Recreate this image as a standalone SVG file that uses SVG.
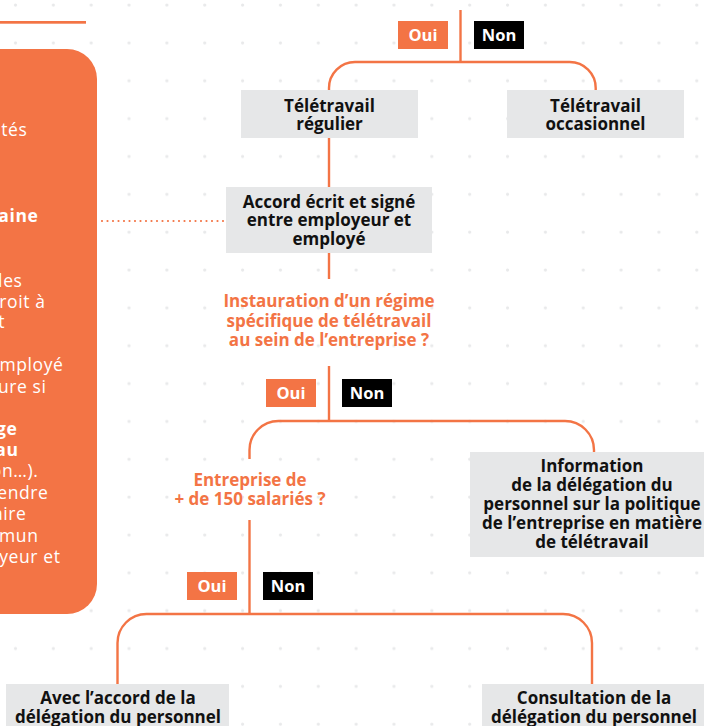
<svg xmlns="http://www.w3.org/2000/svg" width="704" height="726" viewBox="0 0 704 726">
  <defs>
    <pattern id="dots" x="0" y="0" width="37.85" height="37.85" patternUnits="userSpaceOnUse">
      <circle cx="15.5" cy="5" r="1.6" fill="#e8e9ea"/>
    </pattern>
    <style>
      .box { fill: #e6e7e8; }
      .oui { fill: #f37445; }
      .non { fill: #000000; }
      .lbl { font-family: "Open Sans", "Liberation Sans", sans-serif; font-weight: 700; font-size: 16.5px; fill: #ffffff; text-anchor: middle; }
      .t { font-family: "Open Sans", "Liberation Sans", sans-serif; font-weight: 700; font-size: 17px; fill: #111111; text-anchor: middle; }
      .q { font-family: "Open Sans", "Liberation Sans", sans-serif; font-weight: 700; font-size: 17px; fill: #f37445; text-anchor: middle; }
      .p { font-family: "Open Sans", "Liberation Sans", sans-serif; font-weight: 400; font-size: 17.5px; letter-spacing: 0.6px; fill: #ffffff; text-anchor: end; }
      .pb { font-weight: 700; }
      .conn { fill: none; stroke: #f37445; stroke-width: 2.4; }
      .dotted { fill: none; stroke: #f37445; stroke-width: 2.2; stroke-linecap: round; stroke-dasharray: 0 5.5; }
    </style>
  </defs>

  <rect x="0" y="0" width="704" height="726" fill="#ffffff"/>
  <rect x="0" y="0" width="704" height="726" fill="url(#dots)"/>

  <!-- top rule -->
  <rect x="0" y="21" width="86" height="2.7" fill="#f37445"/>

  <!-- side panel -->
  <g id="panel">
    <rect x="-60" y="49" width="157" height="565" rx="30" ry="30" fill="#f37445"/>
    <text class="p" x="27.5" y="136">tés</text>
    <text class="p pb" x="38.5" y="221.5">aine</text>
    <text class="p" x="22.5" y="286.5">les</text>
    <text class="p" x="45.5" y="307.5">roit à</text>
    <text class="p" x="5" y="328">t</text>
    <text class="p" x="63.5" y="371">mployé</text>
    <text class="p" x="46.5" y="392.5">ure si</text>
    <text class="p pb" x="17.5" y="435">ge</text>
    <text class="p pb" x="18.5" y="456">au</text>
    <text class="p" x="38.5" y="476.5">on…).</text>
    <text class="p" x="48.5" y="498.5">endre</text>
    <text class="p" x="26.5" y="520">aire</text>
    <text class="p" x="38.5" y="541.5">mmun</text>
    <text class="p" x="60.5" y="562.5">yeur et</text>
  </g>

  <!-- connectors -->
  <g id="connectors">
    <path class="conn" d="M460.5,10 V62"/>
    <path class="conn" d="M329,91 V88 A26,26 0 0 1 355,62 H569.7 A26,26 0 0 1 595.7,88 V91"/>
    <path class="conn" d="M329,138 V187"/>
    <path class="conn" d="M329,253 V279"/>
    <path class="conn" d="M329,366 V421"/>
    <path class="conn" d="M249.5,459 V450 A29,29 0 0 1 278.5,421 H565 A29,29 0 0 1 594,450 V452"/>
    <path class="conn" d="M249.5,520 V614"/>
    <path class="conn" d="M117.5,684 V643 A29,29 0 0 1 146.5,614 H563 A29,29 0 0 1 592,643 V684"/>
    <path class="dotted" d="M102,221 H224"/>
  </g>

  <!-- yes/no labels -->
  <g id="oui1"><rect class="oui" x="398" y="21" width="50" height="28"/><text class="lbl" x="423" y="41">Oui</text></g>
  <g id="non1"><rect class="non" x="474" y="21" width="50" height="28"/><text class="lbl" x="499" y="41">Non</text></g>
  <g id="oui2"><rect class="oui" x="266" y="379" width="50" height="28"/><text class="lbl" x="291" y="399">Oui</text></g>
  <g id="non2"><rect class="non" x="342" y="379" width="50" height="28"/><text class="lbl" x="367" y="399">Non</text></g>
  <g id="oui3"><rect class="oui" x="187" y="572" width="50" height="28"/><text class="lbl" x="212" y="592">Oui</text></g>
  <g id="non3"><rect class="non" x="263" y="572" width="50" height="28"/><text class="lbl" x="288" y="592">Non</text></g>

  <!-- nodes -->
  <g id="teletravail-regulier">
    <rect class="box" x="241" y="90" width="177" height="48"/>
    <text class="t" x="329.5" y="111.5">Télétravail</text>
    <text class="t" x="329.5" y="129.5">régulier</text>
  </g>
  <g id="teletravail-occasionnel">
    <rect class="box" x="507" y="90" width="177" height="48"/>
    <text class="t" x="595.5" y="111.5">Télétravail</text>
    <text class="t" x="595.5" y="129.5">occasionnel</text>
  </g>
  <g id="accord">
    <rect class="box" x="226" y="187" width="206" height="66"/>
    <text class="t" x="329" y="207.5">Accord écrit et signé</text>
    <text class="t" x="329" y="226">entre employeur et</text>
    <text class="t" x="329" y="244.5">employé</text>
  </g>
  <g id="question-regime">
    <text class="q" x="329" y="307">Instauration d’un régime</text>
    <text class="q" x="329" y="326.5">spécifique de télétravail</text>
    <text class="q" x="329" y="346">au sein de l’entreprise ?</text>
  </g>
  <g id="information">
    <rect class="box" x="470" y="452" width="244" height="105"/>
    <text class="t" x="592" y="472.3">Information</text>
    <text class="t" x="592" y="491">de la délégation du</text>
    <text class="t" x="592" y="510">personnel sur la politique</text>
    <text class="t" x="592" y="529.3">de l’entreprise en matière</text>
    <text class="t" x="592" y="548">de télétravail</text>
  </g>
  <g id="question-150">
    <text class="q" x="250" y="486">Entreprise de</text>
    <text class="q" x="250" y="505">+ de 150 salariés ?</text>
  </g>
  <g id="avec-accord">
    <rect class="box" x="6" y="684" width="223" height="50"/>
    <text class="t" x="118" y="704">Avec l’accord de la</text>
    <text class="t" x="118" y="722.7">délégation du personnel</text>
  </g>
  <g id="consultation">
    <rect class="box" x="482" y="684" width="224" height="50"/>
    <text class="t" x="594" y="704">Consultation de la</text>
    <text class="t" x="594" y="722.7">délégation du personnel</text>
  </g>
</svg>
